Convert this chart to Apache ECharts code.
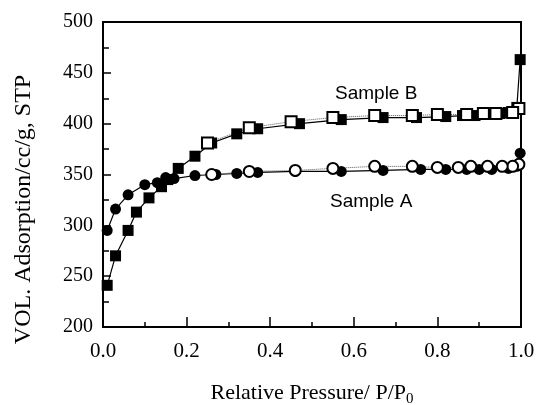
<!DOCTYPE html>
<html>
<head>
<meta charset="utf-8">
<script src="https://cdn.jsdelivr.net/npm/echarts@6/dist/echarts.min.js"></script>
<style>
  html, body { margin: 0; padding: 0; background: #fff; }
  #IsothermChart { width: 540px; height: 405px; }
</style>
</head>
<body>
<div id="IsothermChart"></div>
<script>
// Sample A - adsorption (filled circles)
const aAdsP = [0.01, 0.03, 0.06, 0.10, 0.13, 0.15, 0.17, 0.22, 0.27, 0.32, 0.37, 0.46, 0.57, 0.67, 0.76, 0.82, 0.87, 0.90, 0.93, 0.97, 0.99, 0.998];
const aAdsV = [295, 316, 330, 340, 342, 347, 346, 349, 350, 351, 352, 353, 353, 354, 355, 355, 355, 355, 355, 356, 358, 371];
// Sample A - desorption (open circles)
const aDesP = [0.995, 0.98, 0.955, 0.92, 0.88, 0.85, 0.80, 0.74, 0.65, 0.55, 0.46, 0.35, 0.26];
const aDesV = [360, 358, 358, 358, 358, 357, 357, 358, 358, 356, 354, 353, 350];
// Sample B - adsorption (filled squares)
const bAdsP = [0.01, 0.03, 0.06, 0.08, 0.11, 0.14, 0.155, 0.18, 0.22, 0.26, 0.32, 0.37, 0.47, 0.57, 0.67, 0.75, 0.82, 0.86, 0.89, 0.92, 0.95, 0.97, 0.99, 0.998];
const bAdsV = [241, 270, 295, 313, 327, 338, 345, 356, 368, 381, 390, 395, 400, 404, 406, 406, 407, 408, 408, 409, 410, 411, 416, 463];
// Sample B - desorption (open squares)
const bDesP = [0.995, 0.98, 0.94, 0.91, 0.87, 0.80, 0.74, 0.65, 0.55, 0.45, 0.35, 0.25];
const bDesV = [415, 411, 410, 410, 409, 409, 408, 408, 406, 402, 396, 381];

const xTicks = [0.0, 0.2, 0.4, 0.6, 0.8, 1.0];
const yTicks = [200, 250, 300, 350, 400, 450, 500];

const pairs = (p, v) => p.map((x, i) => [x, v[i]]);

const serif = "'Liberation Serif', 'DejaVu Serif', serif";
const sans = "'Liberation Sans', Arial, sans-serif";

const filled = { color: "#000" };
const open = { color: "#fff", borderColor: "#000", borderWidth: 2 };
const solidLine = { color: "#000", width: 1.2 };
const dotLine = { color: "#555", width: 1, type: "dotted" };

const chart = echarts.init(document.getElementById("IsothermChart"));
const option = {
  animation: false,
  grid: {
    left: 103, right: 19, top: 22, bottom: 78,
    outerBoundsMode: "none", containLabel: false,
    show: true, borderColor: "#000", borderWidth: 2
  },
  xAxis: {
    type: "value",
    min: 0, max: 1, interval: 0.2,
    name: "Relative Pressure/ P/P{sub|0}",
    nameLocation: "middle",
    nameGap: 53,
    nameTextStyle: {
      fontFamily: serif, fontSize: 22, color: "#000",
      rich: { sub: { fontFamily: serif, fontSize: 15, color: "#000", verticalAlign: "bottom", padding: [12, 0, 0, 0] } }
    },
    axisLine: { lineStyle: { color: "#000", width: 2 } },
    axisTick: { inside: true, length: 10, lineStyle: { color: "#000", width: 1.5 } },
    minorTick: { show: true, splitNumber: 2, length: 5, lineStyle: { color: "#000", width: 1.5 } },
    axisLabel: {
      margin: 14, fontFamily: serif, fontSize: 21, color: "#000",
      formatter: v => xTicks.find(t => Math.abs(t - v) < 1e-6).toFixed(1)
    },
    splitLine: { show: false }
  },
  yAxis: {
    type: "value",
    min: 200, max: 500, interval: 50,
    name: "VOL. Adsorption/cc/g, STP",
    nameLocation: "middle",
    nameGap: 67,
    nameTextStyle: { fontFamily: serif, fontSize: 24, color: "#000", padding: [0, 70, 0, 0] },
    axisLine: { lineStyle: { color: "#000", width: 2 } },
    axisTick: { inside: true, length: 8, lineStyle: { color: "#000", width: 1.5 } },
    minorTick: { show: true, splitNumber: 2, length: 6, lineStyle: { color: "#000", width: 1.5 } },
    axisLabel: {
      margin: 10, fontFamily: serif, fontSize: 20, color: "#000",
      formatter: v => String(yTicks.find(t => t === v))
    },
    splitLine: { show: false }
  },
  graphic: [
    { type: "text", left: 335, top: 84, style: { text: "Sample B", font: "19px " + sans, fill: "#000" } },
    { type: "text", left: 330, top: 192, style: { text: "Sample A", font: "19px " + sans, fill: "#000" } }
  ],
  series: [
    { name: "A ads", type: "line", data: pairs(aAdsP, aAdsV), symbol: "circle", symbolSize: 11, itemStyle: filled, lineStyle: solidLine },
    { name: "B ads", type: "line", data: pairs(bAdsP, bAdsV), symbol: "rect", symbolSize: 11, itemStyle: filled, lineStyle: solidLine },
    { name: "A des", type: "line", data: pairs(aDesP, aDesV), symbol: "circle", symbolSize: 11, itemStyle: open, lineStyle: dotLine },
    { name: "B des", type: "line", data: pairs(bDesP, bDesV), symbol: "rect", symbolSize: 11, itemStyle: open, lineStyle: dotLine }
  ]
};
option && chart.setOption(option);
</script>
</body>
</html>
